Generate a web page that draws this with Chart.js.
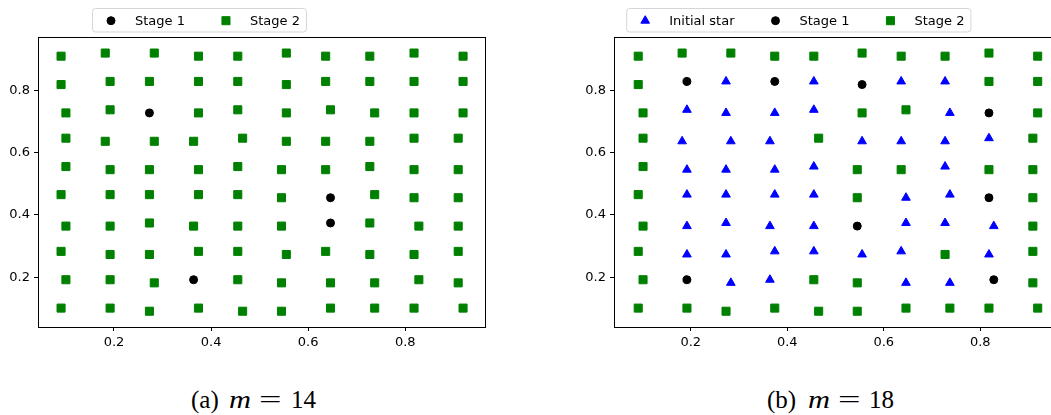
<!DOCTYPE html>
<html>
<head>
<meta charset="utf-8">
<script src="https://cdn.jsdelivr.net/npm/chart.js@4.4.1/dist/chart.umd.min.js"></script>
<style>
  html, body { margin: 0; padding: 0; background: #fff; }
  #wrap { position: relative; width: 1051px; height: 415px; overflow: hidden; background: #fff; }
  #wrap canvas { position: absolute; top: 0; }
  #chartA { left: 0; }
  #chartB { left: 560px; }
  .cap { position: absolute; top: 385px; font-family: "Liberation Serif", serif; font-size: 25px;
         line-height: 30px; white-space: nowrap; color: #000; transform-origin: 0 50%; }
  .cap.wide-m { transform: scaleX(1.22); }
  .cap.wide-eq { transform: scaleX(1.6); }
</style>
</head>
<body>
<div id="wrap">
  <canvas id="chartA" width="525" height="360" style="width:525px;height:360px"></canvas>
  <canvas id="chartB" width="520" height="360" style="width:520px;height:360px"></canvas>
  <span class="cap" style="left:191px">(a)</span>
  <span class="cap wide-m" style="left:229px"><i>m</i></span>
  <span class="cap wide-eq" style="left:259px">=</span>
  <span class="cap" style="left:291px">14</span>
  <span class="cap" style="left:767px">(b)</span>
  <span class="cap wide-m" style="left:808px"><i>m</i></span>
  <span class="cap wide-eq" style="left:838px">=</span>
  <span class="cap" style="left:869px">18</span>
</div>
<script>
// Tick values shared by both panels
const xTickValues = [0.2, 0.4, 0.6, 0.8];
const yTickValues = [0.2, 0.4, 0.6, 0.8];

// Point coordinates, one row per horizontal band (top band first)
const pointX = [
  [0.091, 0.182, 0.283, 0.374, 0.455, 0.555, 0.636, 0.727, 0.818, 0.919],
  [0.091, 0.192, 0.273, 0.374, 0.455, 0.555, 0.636, 0.727, 0.818, 0.919],
  [0.101, 0.192, 0.273, 0.374, 0.455, 0.555, 0.646, 0.737, 0.818, 0.919],
  [0.101, 0.182, 0.283, 0.364, 0.465, 0.555, 0.636, 0.727, 0.818, 0.909],
  [0.101, 0.192, 0.273, 0.374, 0.455, 0.545, 0.636, 0.727, 0.818, 0.909],
  [0.091, 0.192, 0.273, 0.374, 0.455, 0.545, 0.646, 0.737, 0.818, 0.909],
  [0.101, 0.192, 0.273, 0.364, 0.455, 0.545, 0.646, 0.727, 0.828, 0.909],
  [0.091, 0.192, 0.273, 0.374, 0.455, 0.555, 0.636, 0.727, 0.818, 0.909],
  [0.101, 0.192, 0.283, 0.364, 0.455, 0.545, 0.646, 0.737, 0.828, 0.909],
  [0.091, 0.192, 0.273, 0.374, 0.465, 0.545, 0.646, 0.737, 0.818, 0.919]
];
const pointY = [
  [0.909, 0.919, 0.919, 0.909, 0.909, 0.919, 0.909, 0.909, 0.919, 0.909],
  [0.818, 0.828, 0.828, 0.828, 0.828, 0.818, 0.828, 0.828, 0.828, 0.828],
  [0.727, 0.737, 0.727, 0.727, 0.737, 0.727, 0.737, 0.727, 0.727, 0.727],
  [0.646, 0.636, 0.636, 0.636, 0.646, 0.636, 0.636, 0.636, 0.646, 0.646],
  [0.555, 0.545, 0.545, 0.545, 0.555, 0.545, 0.545, 0.555, 0.545, 0.545],
  [0.465, 0.465, 0.465, 0.465, 0.465, 0.455, 0.455, 0.465, 0.455, 0.455],
  [0.364, 0.364, 0.374, 0.364, 0.364, 0.364, 0.374, 0.374, 0.364, 0.364],
  [0.283, 0.273, 0.273, 0.283, 0.283, 0.273, 0.283, 0.273, 0.273, 0.283],
  [0.192, 0.192, 0.182, 0.192, 0.192, 0.182, 0.182, 0.182, 0.192, 0.182],
  [0.101, 0.101, 0.091, 0.101, 0.091, 0.091, 0.101, 0.101, 0.101, 0.101]
];

// Group of each point: T = initial star, C = stage 1, S = stage 2
const groupsM14 = [
  "SSSSSSSSSS",
  "SSSSSSSSSS",
  "SSCSSSSSSS",
  "SSSSSSSSSS",
  "SSSSSSSSSS",
  "SSSSSSCSSS",
  "SSSSSSCSSS",
  "SSSSSSSSSS",
  "SSSCSSSSSS",
  "SSSSSSSSSS"
];
const groupsM18 = [
  "SSSSSSSSSS",
  "SCTCTCTTSS",
  "STTTTSSTCS",
  "STTTSTTTTS",
  "STTTTSSTSS",
  "STTTTSTTCS",
  "STTTTCTTTS",
  "STTTTTTSTS",
  "SCTTSSTTCS",
  "SSSSSSSSSS"
];

const seriesNames = { T: 'Initial star', C: 'Stage 1', S: 'Stage 2' };

const markerStyles = {
  T: { pointStyle: 'triangle', color: '#0000ff', radius: 5.0 },
  C: { pointStyle: 'circle',   color: '#000000', radius: 4.0 },
  S: { pointStyle: 'rect',     color: '#008000', radius: 5.7 }
};

function collect(groups, code) {
  const pts = [];
  groups.forEach((row, r) => {
    for (let c = 0; c < row.length; c++) {
      if (row[c] === code) pts.push({ x: pointX[r][c], y: pointY[r][c] });
    }
  });
  return pts;
}

function makeDatasets(groups, codes) {
  return codes.map(code => {
    const m = markerStyles[code];
    return {
      label: seriesNames[code],
      data: collect(groups, code),
      pointStyle: m.pointStyle,
      pointRadius: m.radius,
      pointHoverRadius: m.radius,
      pointBackgroundColor: m.color,
      pointBorderColor: m.color,
      pointBorderWidth: 1,
      showLine: false
    };
  });
}

Chart.defaults.font.family = '"DejaVu Sans", sans-serif';
Chart.defaults.font.size = 13;
Chart.defaults.color = '#000';

// Black frame around the plotting area
const framePlugin = {
  id: 'frame',
  afterDatasetsDraw(chart) {
    const { ctx, chartArea: a } = chart;
    ctx.save();
    ctx.strokeStyle = '#000';
    ctx.lineWidth = 1;
    ctx.strokeRect(Math.round(a.left) + 0.5, Math.round(a.top) + 0.5,
                   Math.round(a.right - a.left), Math.round(a.bottom - a.top));
    ctx.restore();
  }
};

// Horizontal legend in a rounded box above the plot
const boxLegendPlugin = {
  id: 'boxLegend',
  afterDraw(chart, args, opts) {
    const ctx = chart.ctx;
    ctx.save();
    ctx.font = '13px "DejaVu Sans"';
    const sets = chart.data.datasets;
    const items = [];
    let x = opts.left + 18.5;
    sets.forEach(ds => {
      const tx = x + 24;
      const w = ctx.measureText(ds.label).width;
      items.push({ mx: x, tx, ds });
      x = tx + w + 41;
    });
    const right = x - 41 + 6.5;
    const top = opts.top, h = 23.5, left = opts.left, r = 3;
    ctx.beginPath();
    ctx.moveTo(left + r, top);
    ctx.lineTo(right - r, top);
    ctx.arcTo(right, top, right, top + r, r);
    ctx.lineTo(right, top + h - r);
    ctx.arcTo(right, top + h, right - r, top + h, r);
    ctx.lineTo(left + r, top + h);
    ctx.arcTo(left, top + h, left, top + h - r, r);
    ctx.lineTo(left, top + r);
    ctx.arcTo(left, top, left + r, top, r);
    ctx.closePath();
    ctx.fillStyle = 'rgba(255,255,255,0.8)';
    ctx.fill();
    ctx.strokeStyle = 'rgba(204,204,204,0.8)';
    ctx.lineWidth = 1;
    ctx.stroke();

    const cy = top + 12.2;
    items.forEach(it => {
      ctx.fillStyle = it.ds.pointBackgroundColor;
      ctx.strokeStyle = it.ds.pointBorderColor;
      ctx.lineWidth = it.ds.pointBorderWidth;
      Chart.helpers.drawPoint(ctx, {
        pointStyle: it.ds.pointStyle,
        radius: it.ds.pointRadius,
        borderWidth: it.ds.pointBorderWidth,
        rotation: 0
      }, it.mx, cy);
      ctx.fillStyle = '#000';
      ctx.textBaseline = 'alphabetic';
      ctx.textAlign = 'left';
      ctx.fillText(it.ds.label, it.tx, top + 16.5);
    });
    ctx.restore();
  }
};

function axisScales(xRange, yRange, yAxisWidth, xAxisHeight) {
  const gridOpts = {
    display: true, drawOnChartArea: false, drawTicks: true,
    tickLength: 4, tickColor: '#000', tickWidth: 1
  };
  return {
    x: {
      type: 'linear', min: xRange[0], max: xRange[1],
      afterBuildTicks: s => { s.ticks = xTickValues.map(v => ({ value: v })); },
      afterFit: s => { s.height = xAxisHeight; },
      grid: gridOpts,
      border: { display: false },
      ticks: { padding: 4, color: '#000', autoSkip: false, maxRotation: 0,
               callback: v => v.toFixed(1) }
    },
    y: {
      type: 'linear', min: yRange[0], max: yRange[1],
      afterBuildTicks: s => { s.ticks = yTickValues.map(v => ({ value: v })); },
      afterFit: s => { s.width = yAxisWidth; },
      grid: gridOpts,
      border: { display: false },
      ticks: { padding: 4, color: '#000', autoSkip: false,
               callback: v => v.toFixed(1) }
    }
  };
}

function buildChart(id, datasets, xRange, yRange, yAxisWidth, padRight, legendLeft) {
  return new Chart(document.getElementById(id), {
    type: 'scatter',
    data: { datasets },
    options: {
      responsive: false,
      animation: false,
      events: [],
      devicePixelRatio: 1,
      layout: { padding: { top: 37, right: padRight, bottom: 0, left: 0 } },
      scales: axisScales(xRange, yRange, yAxisWidth, 33),
      plugins: {
        legend: { display: false },
        tooltip: { enabled: false },
        boxLegend: { left: legendLeft, top: 8.5 }
      }
    },
    plugins: [framePlugin, boxLegendPlugin]
  });
}

buildChart('chartA', makeDatasets(groupsM14, ['C', 'S']),
           [0.0435, 0.9642], [0.0404, 0.9705], 38, 40, 92.5);
buildChart('chartB', makeDatasets(groupsM18, ['T', 'C', 'S']),
           [0.0408, 0.9673], [0.0404, 0.9705], 54, 19, 626.7 - 560);
</script>
</body>
</html>
